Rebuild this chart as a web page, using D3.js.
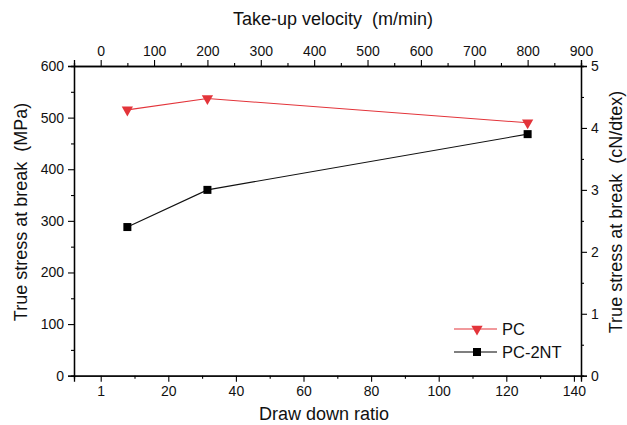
<!DOCTYPE html>
<html><head><meta charset="utf-8">
<script src="https://cdn.jsdelivr.net/npm/d3@7"></script>
<style>
body{margin:0;background:#fff;}
text{font-family:"Liberation Sans",Arial,sans-serif;fill:#111;white-space:pre;}
</style></head>
<body><svg id="c" width="627" height="425"></svg>
<script>
const velocity = [50, 200, 800];
const pcStress = [515, 537, 490];
const pc2ntStress = [288, 360, 468];
const seriesNames = ["PC", "PC-2NT"];
const topTicks = [0,100,200,300,400,500,600,700,800,900];
const bottomTicks = [0,20,40,60,80,100,120,140];
const leftTicks = [0,100,200,300,400,500,600];
const rightTicks = [0,1,2,3,4,5];

const svg = d3.select("#c");
const L=74, R=581, T=66, B=375.7;

const xTop = d3.scaleLinear().domain([-50,900]).range([L,R]);
const xBot = d3.scaleLinear().domain([-7.9,142.1]).range([L,R]);
const yL = d3.scaleLinear().domain([0,600]).range([B,T]);
const yR = d3.scaleLinear().domain([0,5]).range([B,T]);

function minorAxis(axisFn, scale, vals){
  return axisFn(scale).tickValues(vals).tickSize(3).tickFormat("");
}
const fs = "14px";
svg.append("g").attr("transform",`translate(0,${B})`)
  .call(minorAxis(d3.axisBottom, xBot, d3.range(10,141,20)));
svg.append("g").attr("transform",`translate(0,${B})`)
  .call(d3.axisBottom(xBot).tickValues(bottomTicks).tickSize(6).tickPadding(4)
    .tickFormat(d=>d===0?"1":d));
svg.append("g").attr("transform",`translate(0,${T})`)
  .call(minorAxis(d3.axisTop, xTop, d3.range(50,900,100)));
svg.append("g").attr("transform",`translate(0,${T})`)
  .call(d3.axisTop(xTop).tickValues(topTicks).tickSize(6).tickPadding(4));
svg.append("g").attr("transform",`translate(${L},0)`)
  .call(minorAxis(d3.axisLeft, yL, d3.range(50,600,100)));
svg.append("g").attr("transform",`translate(${L},0)`)
  .call(d3.axisLeft(yL).tickValues(leftTicks).tickSize(6).tickPadding(4));
svg.append("g").attr("transform",`translate(${R},0)`)
  .call(minorAxis(d3.axisRight, yR, d3.range(0.5,5,1)));
svg.append("g").attr("transform",`translate(${R},0)`)
  .call(d3.axisRight(yR).tickValues(rightTicks).tickSize(6).tickPadding(4).tickFormat(d3.format("d")));

svg.selectAll(".domain").attr("stroke","#000").attr("stroke-width",1.3);
svg.selectAll(".tick line").attr("stroke","#000").attr("stroke-width",1.1);
svg.selectAll(".tick text").style("font-size",fs).attr("fill","#111")
  .style("font-family",'"Liberation Sans",Arial,sans-serif');

const tfs="18px";
svg.append("text").attr("x",333).attr("y",25).attr("text-anchor","middle").style("font-size",tfs)
  .text("Take-up velocity  (m/min)");
svg.append("text").attr("x",324).attr("y",420).attr("text-anchor","middle").style("font-size",tfs)
  .text("Draw down ratio");
svg.append("text").attr("transform",`translate(27,212) rotate(-90)`).attr("text-anchor","middle")
  .style("font-size",tfs).text("True stress at break  (MPa)");
svg.append("text").attr("transform",`translate(622,212) rotate(-90)`).attr("text-anchor","middle")
  .style("font-size",tfs).text("True stress at break  (cN/dtex)");

const red="#e3343a";
const line = d3.line().x((d,i)=>xTop(velocity[i])).y(d=>yL(d));
svg.append("path").datum(pcStress).attr("d",line).attr("fill","none").attr("stroke",red).attr("stroke-width",1.1);
svg.append("path").datum(pc2ntStress).attr("d",line).attr("fill","none").attr("stroke","#111").attr("stroke-width",1.1);

const tri = d3.symbol().type(d3.symbolTriangle).size(55);
svg.selectAll(".pc").data(pcStress).enter().append("path")
  .attr("d",tri).attr("fill",red)
  .attr("transform",(d,i)=>`translate(${xTop(velocity[i])},${yL(d)}) rotate(180)`);
svg.selectAll(".pc2").data(pc2ntStress).enter().append("rect")
  .attr("x",(d,i)=>xTop(velocity[i])-4).attr("y",d=>yL(d)-4)
  .attr("width",8).attr("height",8).attr("fill","#000");

const lg = svg.append("g");
const rows=[{y:329,c:red,m:"tri"},{y:352,c:"#000",m:"sq"}];
rows.forEach((r,k)=>{
  lg.append("line").attr("x1",454).attr("x2",497).attr("y1",r.y).attr("y2",r.y).attr("stroke",r.c).attr("stroke-width",1.1);
  if(r.m==="tri") lg.append("path").attr("d",tri).attr("fill",r.c).attr("transform",`translate(477,${r.y}) rotate(180)`);
  else lg.append("rect").attr("x",473).attr("y",r.y-4).attr("width",8).attr("height",8).attr("fill",r.c);
  lg.append("text").attr("x",502).attr("y",r.y).attr("dy","0.36em").style("font-size","16.5px").text(seriesNames[k]);
});
</script></body></html>
